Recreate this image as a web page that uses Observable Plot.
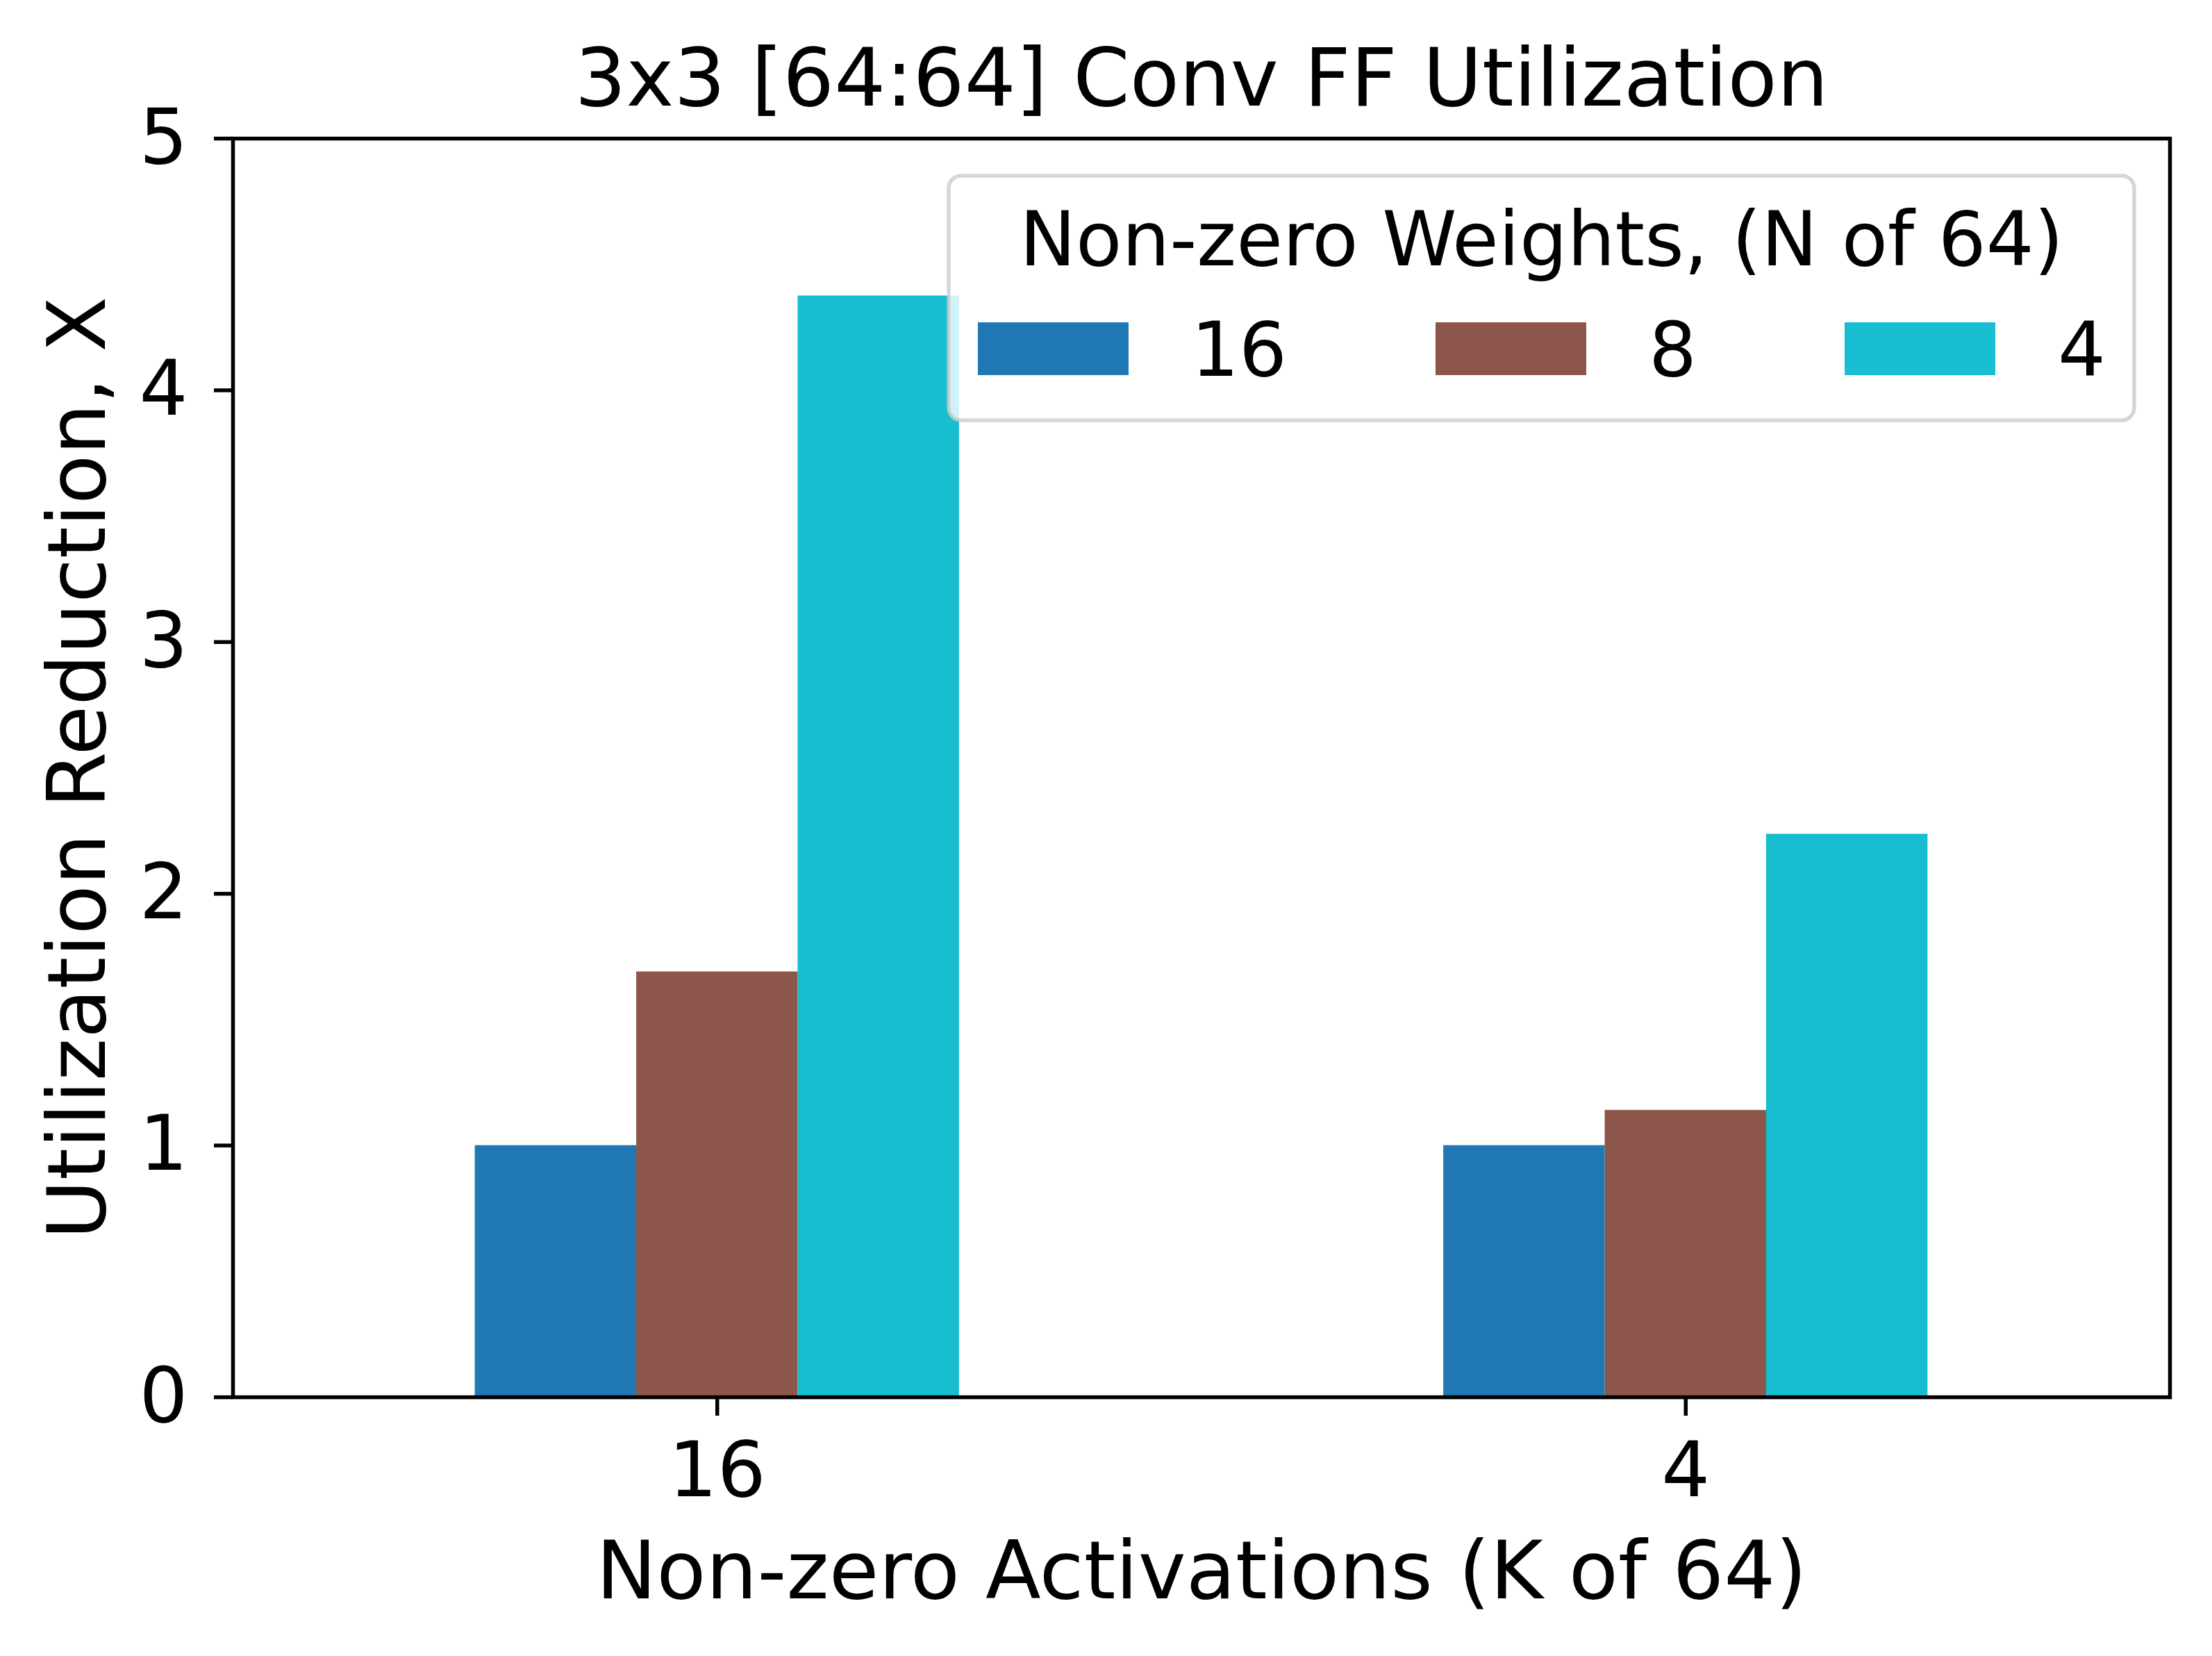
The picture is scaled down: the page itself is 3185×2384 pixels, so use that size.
<!DOCTYPE html>
<html>
<head>
<meta charset="utf-8">
<script src="https://cdn.jsdelivr.net/npm/d3@7"></script>
<script src="https://cdn.jsdelivr.net/npm/@observablehq/plot@0.6"></script>
<style>
  html, body { margin: 0; padding: 0; background: #fff; }
  #chart { position: relative; width: 3185px; height: 2384px; }
</style>
</head>
<body>
<div id="chart"></div>
<script>
// ---- data ----
const activationCats = ["16", "4"];          // x groups: Non-zero Activations (K of 64)
const weightSeries = ["16", "8", "4"];       // series: Non-zero Weights (N of 64)
const seriesColors = ["#1f77b4", "#8c564b", "#17becf"];
const values16 = [1.0, 1.69, 4.375];         // K = 16
const values4 = [1.0, 1.14, 2.237];          // K = 4
const yTicks = [0, 1, 2, 3, 4, 5];
const titleText = "3x3 [64:64] Conv FF Utilization";
const xLabel = "Non-zero Activations (K of 64)";
const yLabel = "Utilization Reduction, X";
const legendTitle = "Non-zero Weights, (N of 64)";

// build table (group index + series index in data units, matplotlib-style grouped bars)
const groupValues = [values16, values4];
const barGroupWidth = 0.5;
const rows = [];
activationCats.forEach((k, ki) => {
  weightSeries.forEach((n, ni) => {
    const w = barGroupWidth / weightSeries.length;
    const x1 = ki - barGroupWidth / 2 + ni * w;
    rows.push({k, n, x1, x2: x1 + w, value: groupValues[ki][ni]});
  });
});

const FONT = "DejaVu Sans";
const tickFont = 110;
const labelFont = 116.5;
const legendFont = 108.5;

const plot = Plot.plot({
  width: 3185,
  height: 2384,
  marginTop: 199,
  marginLeft: 335,
  marginRight: 61,
  marginBottom: 373,
  style: {fontFamily: FONT, fontSize: tickFont + "px", background: "#fff", color: "#000"},
  x: {type: "linear", domain: [-0.5, 1.5]},
  y: {domain: [0, 5]},
  color: {type: "ordinal", domain: weightSeries, range: seriesColors},
  marks: [
    Plot.rectY(rows, {x1: "x1", x2: "x2", y: "value", fill: "n"}),
    Plot.axisX({ticks: activationCats.map((_, i) => i), tickFormat: i => activationCats[i],
      tickSize: 27, tickPadding: 37, strokeWidth: 5.5, fontSize: tickFont, label: null}),
    Plot.axisY({ticks: yTicks, tickFormat: d => String(d),
      tickSize: 27, tickPadding: 38, strokeWidth: 5.5, fontSize: tickFont, label: null}),
    Plot.frame({stroke: "#000", strokeWidth: 5.5}),
    Plot.text([titleText], {text: d => d, frameAnchor: "top", lineAnchor: "bottom", textAnchor: "middle", dy: -48, fontSize: labelFont, fill: "#000"}),
    Plot.text([xLabel], {text: d => d, frameAnchor: "bottom", lineAnchor: "bottom", textAnchor: "middle", dy: 289, fontSize: labelFont, fill: "#000"}),
    Plot.text([yLabel], {text: d => d, frameAnchor: "left", lineAnchor: "bottom", textAnchor: "middle", rotate: -90, dx: -185, fontSize: labelFont, fill: "#000"})
  ]
});

document.getElementById("chart").appendChild(plot);

// ---- legend (drawn inside the plot area, matplotlib-style) ----
const color = plot.scale("color");
const svg = d3.select(plot);
const lg = svg.append("g").attr("transform", "translate(1366,253)").attr("font-family", FONT);
const boxW = 1707, boxH = 352;
lg.append("rect")
  .attr("width", boxW).attr("height", boxH).attr("rx", 18).attr("ry", 18)
  .attr("fill", "#fff").attr("fill-opacity", 0.8)
  .attr("stroke", "#cccccc").attr("stroke-opacity", 0.8).attr("stroke-width", 5.5);
lg.append("text")
  .attr("x", boxW / 2).attr("y", 129).attr("text-anchor", "middle")
  .attr("font-size", legendFont).attr("fill", "#000").text(legendTitle);
const itemLeft = [42, 701, 1290];
weightSeries.forEach((n, i) => {
  lg.append("rect").attr("x", itemLeft[i]).attr("y", 211).attr("width", 217).attr("height", 76)
    .attr("fill", color.range[color.domain.indexOf(n)]);
  lg.append("text").attr("x", itemLeft[i] + 217 + 90).attr("y", 288)
    .attr("text-anchor", "start")
    .attr("font-size", legendFont).attr("fill", "#000").text(n);
});
</script>
</body>
</html>
